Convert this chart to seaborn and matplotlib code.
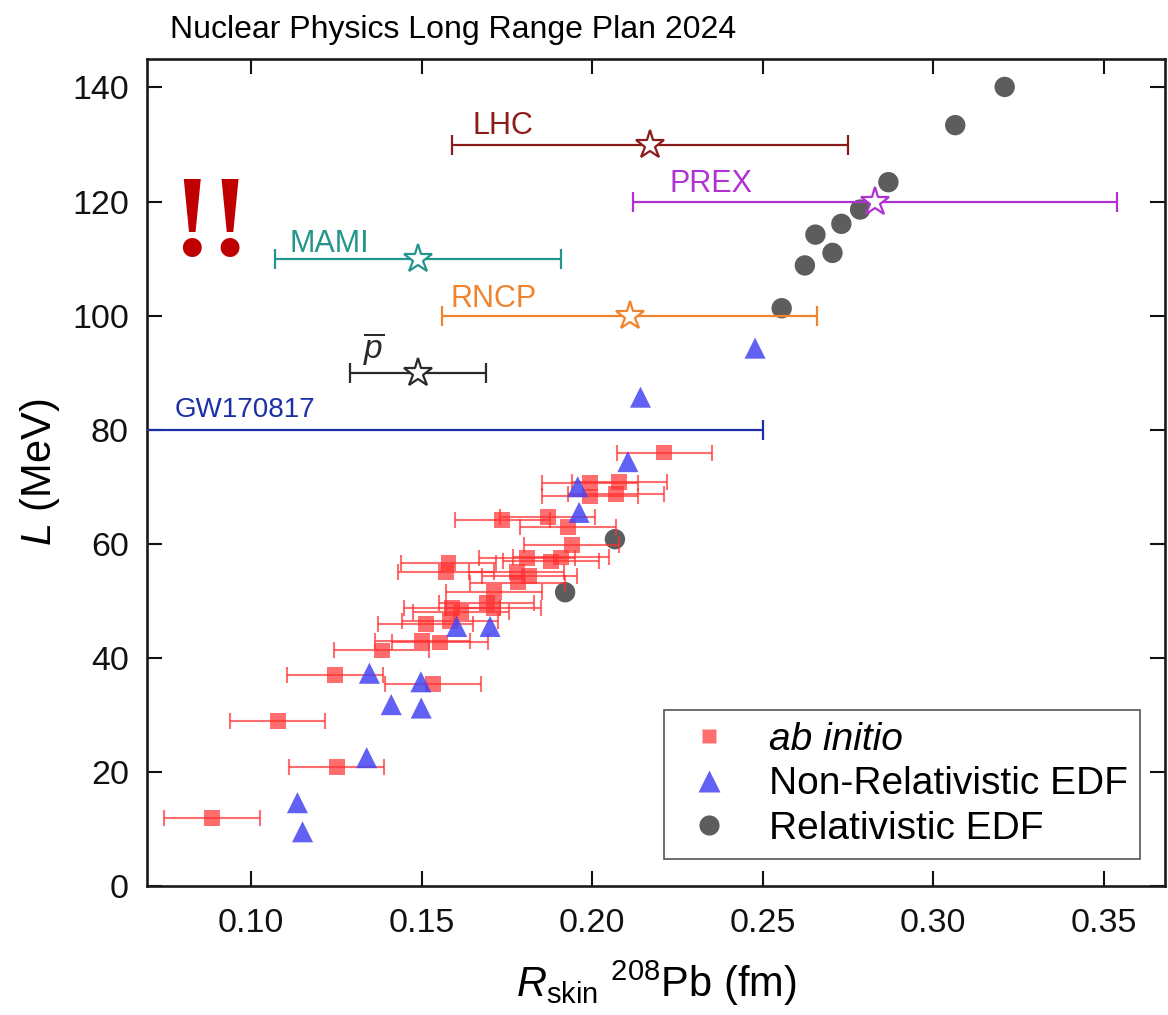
import matplotlib
matplotlib.use('Agg')
import matplotlib.pyplot as plt
import seaborn as sns
import pandas as pd
from matplotlib.lines import Line2D

# ab initio (squares with x error bars)
ab_rskin = [0.2212, 0.1994, 0.2080, 0.1994, 0.2070, 0.1737, 0.1870, 0.1929, 0.1940, 0.1809,
            0.1879, 0.1909, 0.1579, 0.1572, 0.1779, 0.1816, 0.1782, 0.1713, 0.1691, 0.1711,
            0.1589, 0.1615, 0.1584, 0.1512, 0.1502, 0.1554, 0.1383, 0.1246, 0.1533, 0.1078,
            0.1251, 0.0885]
ab_L = [76.0, 70.6, 70.8, 68.3, 68.7, 64.2, 64.7, 62.9, 59.8, 57.5,
        56.9, 57.6, 56.6, 55.1, 55.0, 54.3, 53.2, 51.6, 49.6, 48.7,
        48.7, 48.1, 46.4, 45.9, 43.0, 42.7, 41.3, 37.0, 35.4, 28.9,
        20.9, 11.9]
ab_err = 0.014

# Non-relativistic EDF (triangles)
nr_rskin = [0.2478, 0.2142, 0.2105, 0.1958, 0.1962, 0.1603, 0.1701, 0.1347, 0.1498,
            0.1411, 0.1499, 0.1339, 0.1136, 0.1151]
nr_L = [94.3, 85.7, 74.4, 70.0, 65.5, 45.5, 45.5, 37.3, 35.8,
        31.8, 31.2, 22.5, 14.6, 9.5]

# Relativistic EDF (circles)
rel_rskin = [0.3210, 0.3065, 0.2869, 0.2786, 0.2731, 0.2655, 0.2705, 0.2624, 0.2556,
             0.2067, 0.1921]
rel_L = [140.1, 133.4, 123.4, 118.6, 116.1, 114.2, 111.0, 108.8, 101.3,
         60.8, 51.5]

# experiments
exp_names = ['LHC', 'PREX', 'MAMI', 'RNCP', r'$\overline{p}$']
exp_rskin = [0.217, 0.283, 0.149, 0.211, 0.149]
exp_L = [130, 120, 110, 100, 90]
exp_err = [0.058, 0.071, 0.042, 0.055, 0.020]
exp_colors = ['#8b1c1c', '#b032d2', '#23958c', '#f0832e', '#2a2a2a']

gw_limit = 0.25
gw_L = 80

df_ab = pd.DataFrame({'rskin': ab_rskin, 'L': ab_L})
df_nr = pd.DataFrame({'rskin': nr_rskin, 'L': nr_L})
df_rel = pd.DataFrame({'rskin': rel_rskin, 'L': rel_L})

sns.set_style('ticks')
plt.rcParams['font.family'] = ['Liberation Sans', 'DejaVu Sans']
plt.rcParams['mathtext.fontset'] = 'custom'
plt.rcParams['mathtext.rm'] = 'Liberation Sans'
plt.rcParams['mathtext.it'] = 'Liberation Sans:italic'
plt.rcParams['text.color'] = 'black'
plt.rcParams['axes.labelcolor'] = 'black'

red = '#ff3030'
blue = '#4545f2'
gray = '#404040'

fig = plt.figure(figsize=(11.68, 10.15), dpi=100)
ax = fig.add_axes([0.1259, 0.1271, 0.8715, 0.8148])

# model points
ax.errorbar(df_ab['rskin'], df_ab['L'], xerr=ab_err, fmt='none', ecolor=red,
            elinewidth=1.5, capsize=6, capthick=1.5, alpha=0.7, zorder=3)
sns.scatterplot(data=df_rel, x='rskin', y='L', marker='o', s=215, color=gray,
                alpha=0.85, edgecolor='none', ax=ax, zorder=2)
sns.scatterplot(data=df_ab, x='rskin', y='L', marker='s', s=130, color=red,
                alpha=0.7, edgecolor='none', ax=ax, zorder=4)
sns.scatterplot(data=df_nr, x='rskin', y='L', marker='^', s=230, color=blue,
                alpha=0.85, edgecolor='none', ax=ax, zorder=5)

# experimental constraints
for i in range(len(exp_names)):
    ax.errorbar(exp_rskin[i], exp_L[i], xerr=exp_err[i], fmt='*', color=exp_colors[i],
                ms=21, mfc='white', mec=exp_colors[i], mew=1.6,
                elinewidth=1.6, capsize=7, capthick=1.6, zorder=6)

ax.errorbar(gw_limit, gw_L, xerr=[[gw_limit], [0]], fmt='none', ecolor='#1c2fa6',
            elinewidth=1.6, capsize=7, capthick=1.6, zorder=6)

# labels for experiments
ax.text(0.165, 131.8, 'LHC', color=exp_colors[0], fontsize=22)
ax.text(0.2226, 121.6, 'PREX', color=exp_colors[1], fontsize=22)
ax.text(0.1112, 111.2, 'MAMI', color=exp_colors[2], fontsize=22)
ax.text(0.1584, 101.5, 'RNCP', color=exp_colors[3], fontsize=22)
ax.text(0.1359, 92.6, exp_names[4], color=exp_colors[4], fontsize=24, ha='center')
ax.text(0.0777, 82.2, 'GW170817', color='#1c2fa6', fontsize=20)

ax.text(0.0882, 110.6, '!!', color='#c00000', fontsize=84, fontweight='bold',
        family='Liberation Serif', ha='center', va='baseline')

ax.set_xlim(0.0695, 0.368)
ax.set_ylim(0, 145)
ax.set_xticks([0.10, 0.15, 0.20, 0.25, 0.30, 0.35])
ax.set_xticklabels(['0.10', '0.15', '0.20', '0.25', '0.30', '0.35'])
ax.set_yticks([0, 20, 40, 60, 80, 100, 120, 140])

ax.tick_params(direction='in', length=11, width=1.5, top=True, right=True,
               labelsize=24.5, colors='#111111')
ax.tick_params(axis='x', pad=16)
ax.tick_params(axis='y', pad=13)
for sp in ax.spines.values():
    sp.set_linewidth(1.9)
    sp.set_color('#1a1a1a')

ax.set_xlabel(r'$R_{\mathrm{skin}}$ $^{208}$Pb (fm)', fontsize=30)
ax.set_ylabel(r'$L$ (MeV)', fontsize=30)
ax.xaxis.set_label_coords(0.5, -0.088)
ax.yaxis.set_label_coords(-0.0835, 0.5)

handles = [
    Line2D([], [], marker='s', ls='none', color=red, alpha=0.7, ms=10, mec='none'),
    Line2D([], [], marker='^', ls='none', color=blue, alpha=0.85, ms=15.5, mec='none'),
    Line2D([], [], marker='o', ls='none', color=gray, alpha=0.85, ms=14.5, mec='none'),
]
leg = ax.legend(handles, ['ab initio', 'Non-Relativistic EDF', 'Relativistic EDF'],
                loc='lower right', bbox_to_anchor=(0.975, 0.033), borderaxespad=0,
                fontsize=28, frameon=True, fancybox=False, edgecolor='#555555',
                framealpha=1, handlelength=1.73, handletextpad=0.67, labelspacing=0.22,
                borderpad=0.3)
leg.get_frame().set_linewidth(1.2)
leg.get_texts()[0].set_fontstyle('italic')

fig.text(0.1455, 0.9626, 'Nuclear Physics Long Range Plan 2024', fontsize=23,
         va='baseline', ha='left')

fig.savefig('out.png', dpi=100)
